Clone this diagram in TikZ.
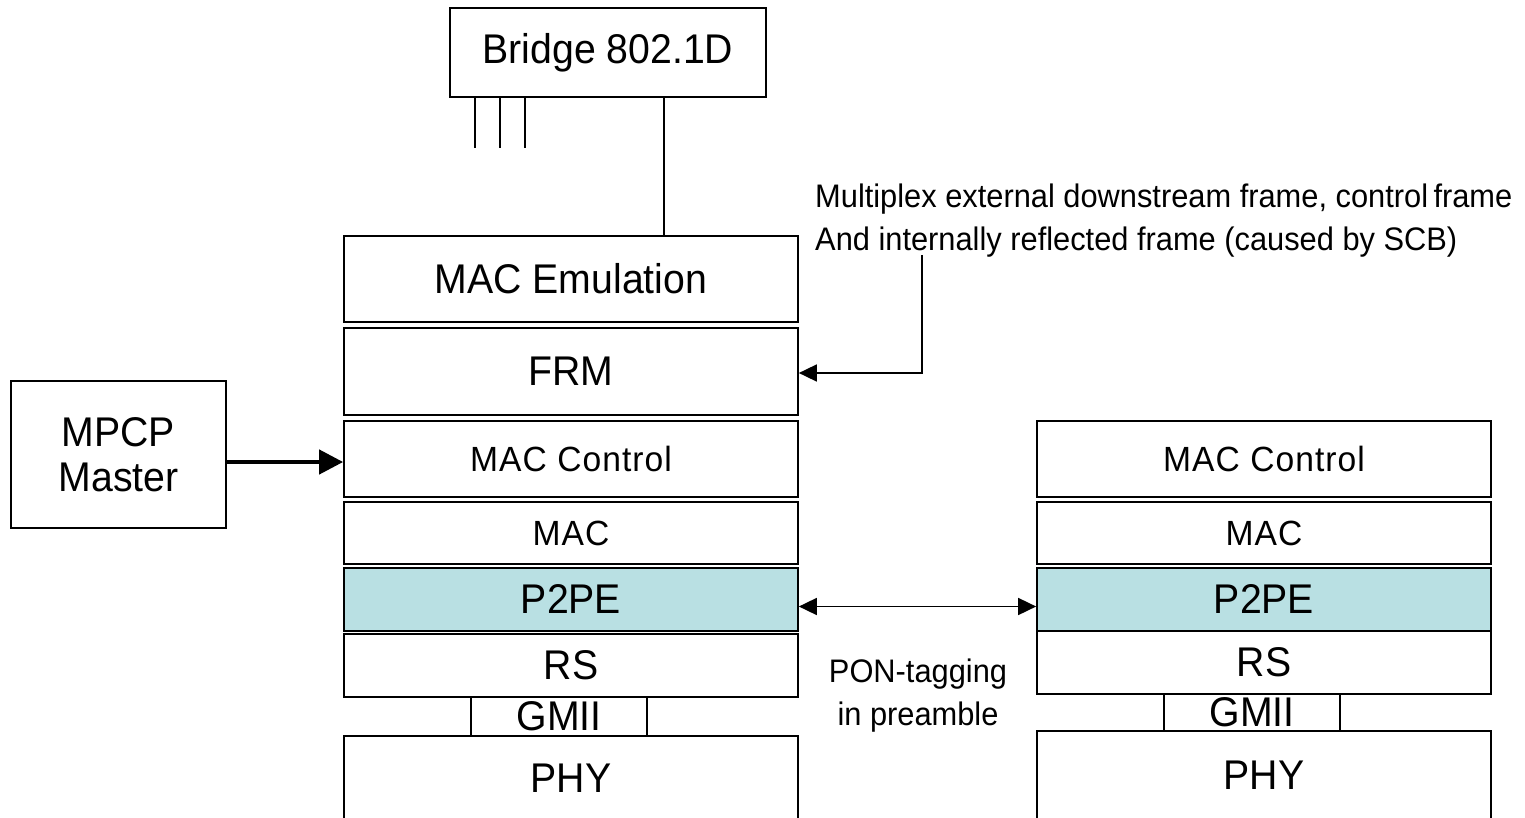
\documentclass[tikz,border=0pt]{standalone}
\usepackage{fontspec}
\setmainfont{Liberation Sans}
\newfontfamily\narrowsans[FakeStretch=0.945]{Liberation Sans}
\newfontfamily\spacedsans[LetterSpace=3,FakeStretch=0.96]{Liberation Sans}
\usetikzlibrary{arrows.meta}
\definecolor{p2pefill}{RGB}{185,224,227}
\begin{document}
\begin{tikzpicture}[x=1pt,y=-1pt,
  layer/.style={draw, line width=1.7pt, inner sep=0pt, minimum width=454pt},
  bigtxt/.style={font=\narrowsans\fontsize{41.5}{45}\selectfont},
  midtxt/.style={font=\spacedsans\fontsize{35}{38}\selectfont},
  notetxt/.style={font=\narrowsans\fontsize{32.6}{43}\selectfont, inner sep=0pt},
  link/.style={line width=1.7pt},
  thinarrow/.style={link, -{Triangle[length=18pt,width=17pt]}},
  botharrow/.style={link, {Triangle[length=18pt,width=17pt]}-{Triangle[length=18pt,width=17pt]}},
  thickarrow/.style={line width=4.2pt, -{Triangle[length=24pt,width=24pt]}},
]
\useasboundingbox (0,0) rectangle (1525,818);

% bridge and its ports
\node[layer, bigtxt, minimum width=316pt, minimum height=89pt] (bridge) at (608,52.5) {Bridge 802.1D};
\foreach \dx in {26,51,76}
  \draw[link] ([xshift=\dx pt]bridge.south west) -- ++(0,50);

% OLT stack (left)
\node[layer, bigtxt, minimum height=86pt] (memu) at (571,279) {MAC Emulation};
\node[layer, bigtxt, minimum height=87pt] (frm) at (571,371.5) {FRM};
\node[layer, midtxt, minimum height=76pt] (mctl) at (571,459) {MAC Control};
\node[layer, midtxt, minimum height=62pt] (mac) at (571,533) {MAC};
\node[layer, bigtxt, minimum height=63pt, fill=p2pefill] (p2pe) at (571,599.5) {P2PE};
\node[layer, bigtxt, minimum height=63pt] (rs) at (571,665.5) {RS};
\node[layer, bigtxt, minimum width=176pt, minimum height=39pt] (gmii) at (559,716.5) {GMII};
\draw[link] (344,818) |- (798,736) -- (798,818);
\node[bigtxt] (phy) at (571,778) {PHY};

% ONU stack (right)
\node[layer, midtxt, minimum height=76pt] (mctlb) at (1264,459) {MAC Control};
\node[layer, midtxt, minimum height=62pt] (macb) at (1264,533) {MAC};
\node[layer, bigtxt, minimum height=63pt, fill=p2pefill] (p2peb) at (1264,599.5) {P2PE};
\node[layer, bigtxt, minimum height=63pt] (rsb) at (1264,662.5) {RS};
\node[layer, bigtxt, minimum width=176pt, minimum height=37pt] (gmiib) at (1252,712.5) {GMII};
\draw[link] (1037,818) |- (1491,731) -- (1491,818);
\node[bigtxt] (phyb) at (1264,775) {PHY};

% MPCP master
\node[layer, bigtxt, minimum width=215pt, minimum height=147pt, align=center] (mpcp) at (118.5,454.5) {MPCP\\Master};

% bridge to MAC emulation
\draw[link] ([xshift=56pt]bridge.south) -- ([xshift=93pt]memu.north);

% multiplexing note
\node[notetxt, anchor=north west, align=left] (note) at (815,184)
  {Multiplex external downstream frame, control\,frame\\And internally reflected frame (caused by SCB)};
\coordinate (notefoot) at (922,255);
\draw[thinarrow] (notefoot) |- ([yshift=-1.5pt]frm.east);

% MPCP to MAC control
\draw[thickarrow] ([yshift=-3pt]mctl.west -| mpcp.east) -- ([yshift=-3pt]mctl.west);

% PON tagging between P2PE layers
\draw[botharrow] ([yshift=-7pt]p2pe.east) -- ([yshift=-7pt]p2peb.west);
\node[notetxt, align=center] (pon) at (918,696) {PON-tagging\\in preamble};
\end{tikzpicture}
\end{document}
